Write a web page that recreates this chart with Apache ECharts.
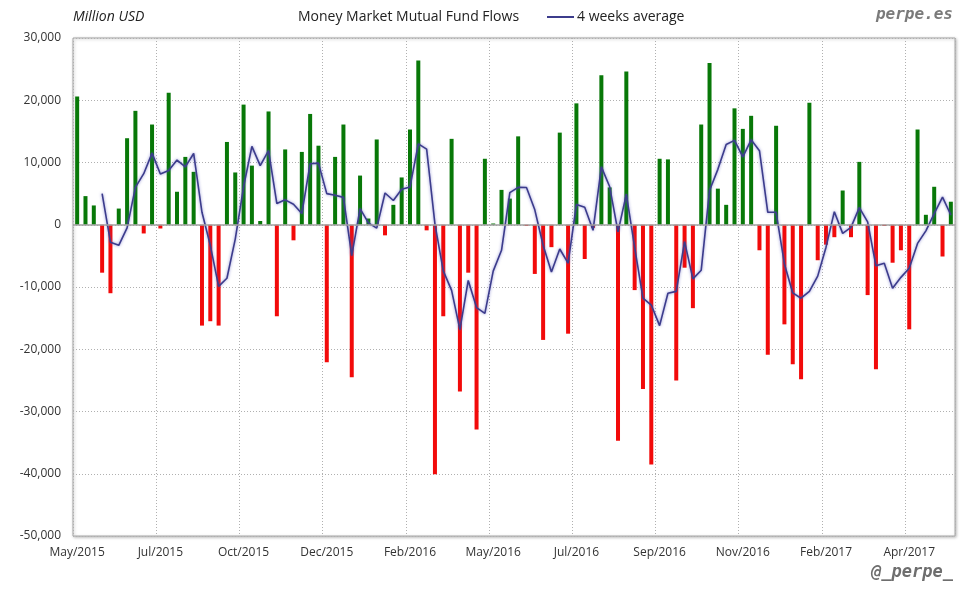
<!DOCTYPE html>
<html>
<head>
<meta charset="utf-8">
<script src="https://cdn.jsdelivr.net/npm/echarts@6/dist/echarts.min.js"></script>
<style>
  html, body { margin: 0; padding: 0; background: #fff; }
  #chart { width: 980px; height: 600px; }
</style>
</head>
<body>
<div id="chart"></div>
<script>
// ---- Data (Million USD, weekly) ----
const startWeek = '2015-05-20';
const monthNames = ['Jan','Feb','Mar','Apr','May','Jun','Jul','Aug','Sep','Oct','Nov','Dec'];

const flows = [
  20600, 4600, 3100, -7700, -11000, 2600, 13900, 18300, -1400, 16100,
  -600, 21200, 5300, 10900, 8500, -16200, -15500, -16200, 13300, 8400,
  19300, 9500, 600, 18200, -14700, 12100, -2500, 11700, 17800, 12700,
  -22100, 10900, 16100, -24500, 7900, 1000, 13700, -1700, 3200, 7600,
  15300, 26400, -900, -40100, -14700, 13800, -26800, -7700, -32900, 10600,
  200, 5600, 4200, 14200, -200, -7900, -18500, -3600, 14800, -17500,
  19500, -5500, -500, 24000, 6000, -34700, 24600, -10500, -26400, -38500,
  10600, 10500, -25000, -6900, -13400, 16100, 26000, 5800, 3200, 18700,
  15400, 17500, -4100, -20900, 15900, -16000, -22400, -24800, 19600, -5700,
  -3200, -2000, 5500, -2000, 10100, -11300, -23200, -200, -6100, -4100,
  -16800, 15300, 1600, 6100, -5100, 3700
];

const avg4 = [
  null, null, null, 5000, -2800, -3300, -500, 6000, 8200, 11500,
  8150, 8700, 10400, 9300, 11450, 2000, -3300, -9900, -8600, -2300,
  6100, 12600, 9500, 11900, 3400, 4000, 3300, 1800, 9800, 9900,
  5000, 4750, 4400, -4950, 2600, 300, -550, 5100, 3900, 5700,
  6050, 13000, 12150, 100, -7400, -10550, -16850, -8950, -13300, -14250,
  -7450, -4100, 5150, 6000, 5980, 2400, -3300, -7600, -3900, -6150,
  3250, 2800, -900, 9300, 6100, -1150, 4900, -3650, -11800, -12900,
  -16200, -11000, -10700, -2700, -8700, -7300, 5500, 8900, 12900, 13550,
  10900, 13650, 11900, 2000, 2000, -6300, -10950, -11800, -10700, -8250,
  -3600, 2100, -1380, -430, 2750, 450, -6600, -6200, -10200, -8450,
  -7000, -3000, -980, 1800, 4450, 1560
];

const yMin = -50000, yMax = 30000, yStep = 10000;

// weekly category labels
const weeks = [];
(function () {
  const d0 = new Date(startWeek + 'T00:00:00Z');
  for (let i = 0; i < flows.length; i++) {
    const d = new Date(d0.getTime() + i * 7 * 86400000);
    weeks.push(d.toISOString().slice(0, 10));
  }
})();

const FONT = '"Open Sans", "Noto Sans", sans-serif';

const chart = echarts.init(document.getElementById('chart'), null, { renderer: 'canvas' });

chart.setOption({
  backgroundColor: '#ffffff',
  animation: false,
  textStyle: { fontFamily: FONT },
  grid: {
    left: 73, right: 25, top: 38, bottom: 64,
    show: true,
    borderColor: '#a8a8a8',
    borderWidth: 1,
    backgroundColor: '#ffffff',
    shadowColor: 'rgba(0,0,0,0.25)',
    shadowBlur: 3,
    shadowOffsetX: 1,
    shadowOffsetY: 1
  },
  title: [
    {
      text: 'Million USD',
      left: 73, top: 10, padding: 0,
      textStyle: { fontFamily: FONT, fontSize: 14, fontStyle: 'italic', fontWeight: 'normal', color: '#222' }
    },
    {
      text: 'Money Market Mutual Fund Flows',
      left: 298, top: 10, padding: 0,
      textStyle: { fontFamily: FONT, fontSize: 14, fontWeight: 'normal', color: '#222' }
    },
    {
      text: 'perpe.es',
      right: 27, top: 7, padding: 0,
      textStyle: { fontFamily: '"DejaVu Sans Mono", monospace', fontSize: 16, fontStyle: 'italic', fontWeight: 'bold', color: '#7a7a7a' }
    },
    {
      text: '@_perpe_',
      right: 27, top: 564, padding: 0,
      textStyle: { fontFamily: '"DejaVu Sans Mono", monospace', fontSize: 17, fontStyle: 'italic', fontWeight: 'bold', color: '#6e6e6e' }
    }
  ],
  legend: {
    data: [{ name: '4 weeks average', icon: 'rect' }],
    left: 547, top: 10, padding: 0,
    itemWidth: 27, itemHeight: 2, itemGap: 10,
    textStyle: { fontFamily: FONT, fontSize: 14, color: '#222', padding: [0, 0, 0, -2] }
  },
  xAxis: {
    type: 'category',
    data: weeks,
    boundaryGap: true,
    axisLine: { show: false, onZero: false },
    axisTick: { show: false },
    axisLabel: {
      interval: 9,
      margin: 11,
      color: '#333',
      fontSize: 12,
      fontFamily: FONT,
      formatter: function (v) {
        const m = parseInt(v.slice(5, 7), 10) - 1;
        return monthNames[m] + '/' + v.slice(0, 4);
      }
    },
    splitLine: {
      show: true,
      interval: 9,
      lineStyle: { color: '#b0b0b0', type: [1, 2], width: 1 }
    }
  },
  yAxis: {
    type: 'value',
    min: yMin, max: yMax, interval: yStep,
    axisLine: { show: false },
    axisTick: { show: false },
    axisLabel: {
      margin: 12,
      color: '#333',
      fontSize: 12,
      fontFamily: FONT,
      formatter: function (v) { return v.toLocaleString('en-US'); }
    },
    splitLine: { show: true, lineStyle: { color: '#b0b0b0', type: [1, 2], width: 1 } }
  },
  series: [
    {
      name: 'Money Market Mutual Fund Flows',
      type: 'bar',
      data: flows,
      barWidth: 4,
      itemStyle: {
        color: function (p) { return p.value >= 0 ? '#087808' : '#f20a0a'; }
      },
      markLine: {
        silent: true,
        symbol: 'none',
        label: { show: false },
        lineStyle: { color: '#a0a0a0', type: 'solid', width: 1.5 },
        data: [{ yAxis: 0 }]
      },
      z: 2
    },
    {
      name: '4 weeks average',
      type: 'line',
      data: avg4,
      showSymbol: false,
      symbol: 'none',
      connectNulls: false,
      itemStyle: { color: '#3c3c8c' },
      lineStyle: {
        color: '#3c3c8c',
        width: 1.6,
        shadowColor: 'rgba(90,90,190,0.7)',
        shadowBlur: 3
      },
      z: 3
    }
  ]
});
</script>
</body>
</html>
